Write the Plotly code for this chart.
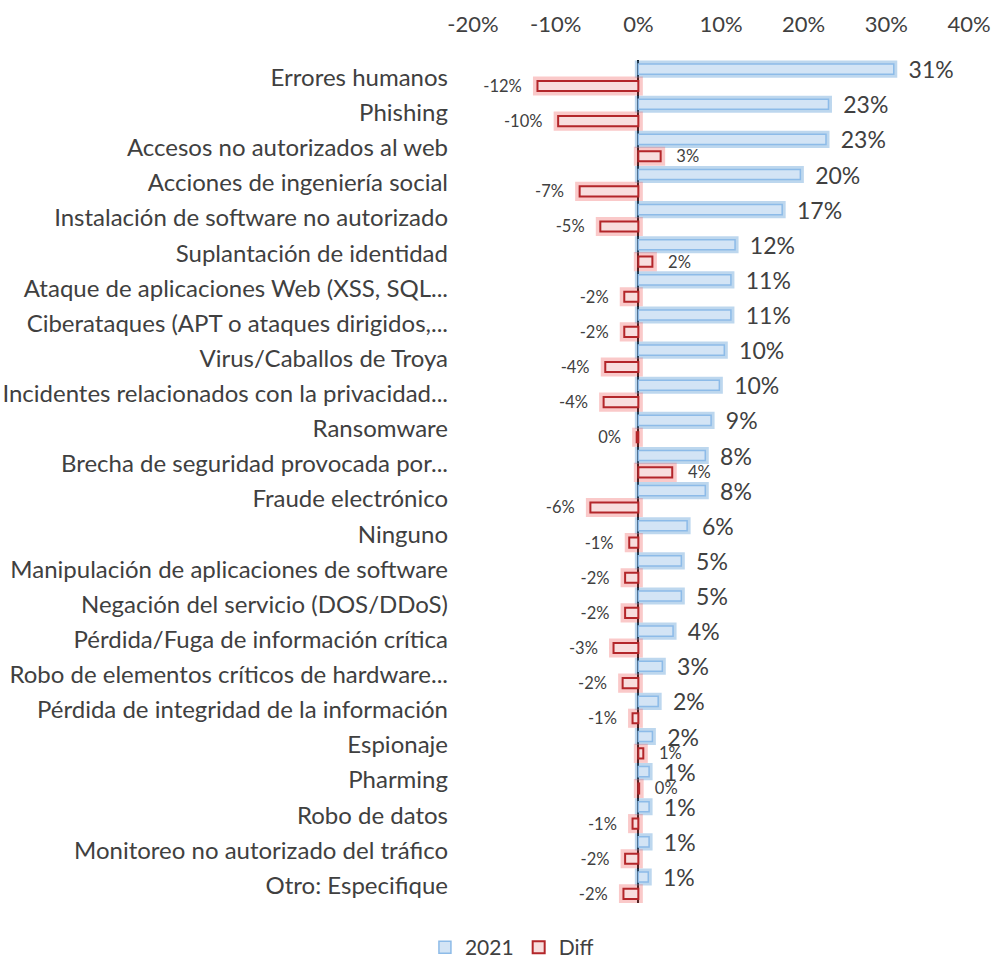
import plotly.graph_objects as go

categories = [
    "Errores humanos",
    "Phishing",
    "Accesos no autorizados al web",
    "Acciones de ingeniería social",
    "Instalación de software no autorizado",
    "Suplantación de identidad",
    "Ataque de aplicaciones Web (XSS, SQL...",
    "Ciberataques (APT o ataques dirigidos,...",
    "Virus/Caballos de Troya",
    "Incidentes relacionados con la privacidad...",
    "Ransomware",
    "Brecha de seguridad provocada por...",
    "Fraude electrónico",
    "Ninguno",
    "Manipulación de aplicaciones de software",
    "Negación del servicio (DOS/DDoS)",
    "Pérdida/Fuga de información crítica",
    "Robo de elementos críticos de hardware...",
    "Pérdida de integridad de la información",
    "Espionaje",
    "Pharming",
    "Robo de datos",
    "Monitoreo no autorizado del tráfico",
    "Otro: Especifique",
]

vals_2021 = [30.9, 23.0, 22.7, 19.6, 17.4, 11.7, 11.2, 11.2, 10.4, 9.8, 8.8, 8.1,
             8.1, 5.9, 5.2, 5.2, 4.2, 2.9, 2.4, 1.7, 1.3, 1.3, 1.3, 1.2]
vals_diff = [-12.2, -9.7, 2.7, -7.1, -4.6, 1.7, -1.7, -1.7, -4.0, -4.2, -0.2, 4.1,
             -5.8, -1.1, -1.6, -1.6, -3.0, -1.9, -0.7, 0.6, 0.1, -0.7, -1.6, -1.8]

tick_vals = [-20, -10, 0, 10, 20, 30, 40]
tick_text = ["-20%", "-10%", "0%", "10%", "20%", "30%", "40%"]

NB = "\u00a0"
labels_2021 = [NB * 2 + f"{int(round(v))}%" for v in vals_2021]
labels_diff = [(f"{int(round(v))}%" + NB * 3) if v < 0 else (NB * 3 + f"{int(round(v))}%")
               for v in vals_diff]

FONT = "Lato"
TXT = "#404040"

fig = go.Figure()

# soft glow layer behind the bars
fig.add_trace(go.Bar(y=categories, x=vals_2021, orientation="h", yaxis="y",
                     marker=dict(color="rgba(91,155,213,0.45)",
                                 line=dict(color="rgba(91,155,213,0.4)", width=7)),
                     showlegend=False, hoverinfo="skip"))
fig.add_trace(go.Bar(y=categories, x=vals_diff, orientation="h", yaxis="y",
                     marker=dict(color="rgba(240,100,100,0.35)",
                                 line=dict(color="rgba(240,100,100,0.35)", width=9)),
                     showlegend=False, hoverinfo="skip"))

# crisp bars
fig.add_trace(go.Bar(y=categories, x=vals_2021, orientation="h", yaxis="y2", name="2021",
                     marker=dict(color="#d3e4f5", line=dict(color="#8dbbe8", width=1.5)),
                     text=labels_2021, textposition="outside", constraintext="none",
                     cliponaxis=False,
                     textfont=dict(family=FONT, size=23, color=TXT)))
fig.add_trace(go.Bar(y=categories, x=vals_diff, orientation="h", yaxis="y2", name="Diff",
                     marker=dict(color="#f8dede", line=dict(color="#b3262a", width=2)),
                     text=labels_diff, textposition="outside", constraintext="none",
                     cliponaxis=False,
                     textfont=dict(family=FONT, size=16.5, color=TXT)))

fig.update_layout(
    width=996, height=968,
    margin=dict(l=473, r=27, t=60, b=65),
    paper_bgcolor="white", plot_bgcolor="white",
    font=dict(family=FONT, size=22, color=TXT),
    barmode="group", bargap=0.04, bargroupgap=0.4,
    xaxis=dict(range=[-20, 40], tickvals=tick_vals, ticktext=tick_text, side="top",
               showgrid=False, zeroline=True, zerolinecolor="black", zerolinewidth=2,
               showline=False, ticks="", tickfont=dict(size=22), automargin=False,
               ticklabelstandoff=23),
    yaxis=dict(categoryorder="array", categoryarray=categories, autorange="reversed",
               showgrid=False, ticks="", ticklabelstandoff=24, automargin=False,
               tickfont=dict(size=24, color=TXT)),
    yaxis2=dict(categoryorder="array", categoryarray=categories, autorange="reversed",
                overlaying="y", showticklabels=False, showgrid=False, ticks="",
                automargin=False),
    legend=dict(orientation="h", xref="container", yref="container",
                x=0.514, xanchor="center", y=0, yanchor="bottom",
                font=dict(size=21), itemwidth=30, traceorder="normal"),
)

fig.write_html("out.html", config={"displayModeBar": False},
               post_script="document.body.style.margin='0';")
